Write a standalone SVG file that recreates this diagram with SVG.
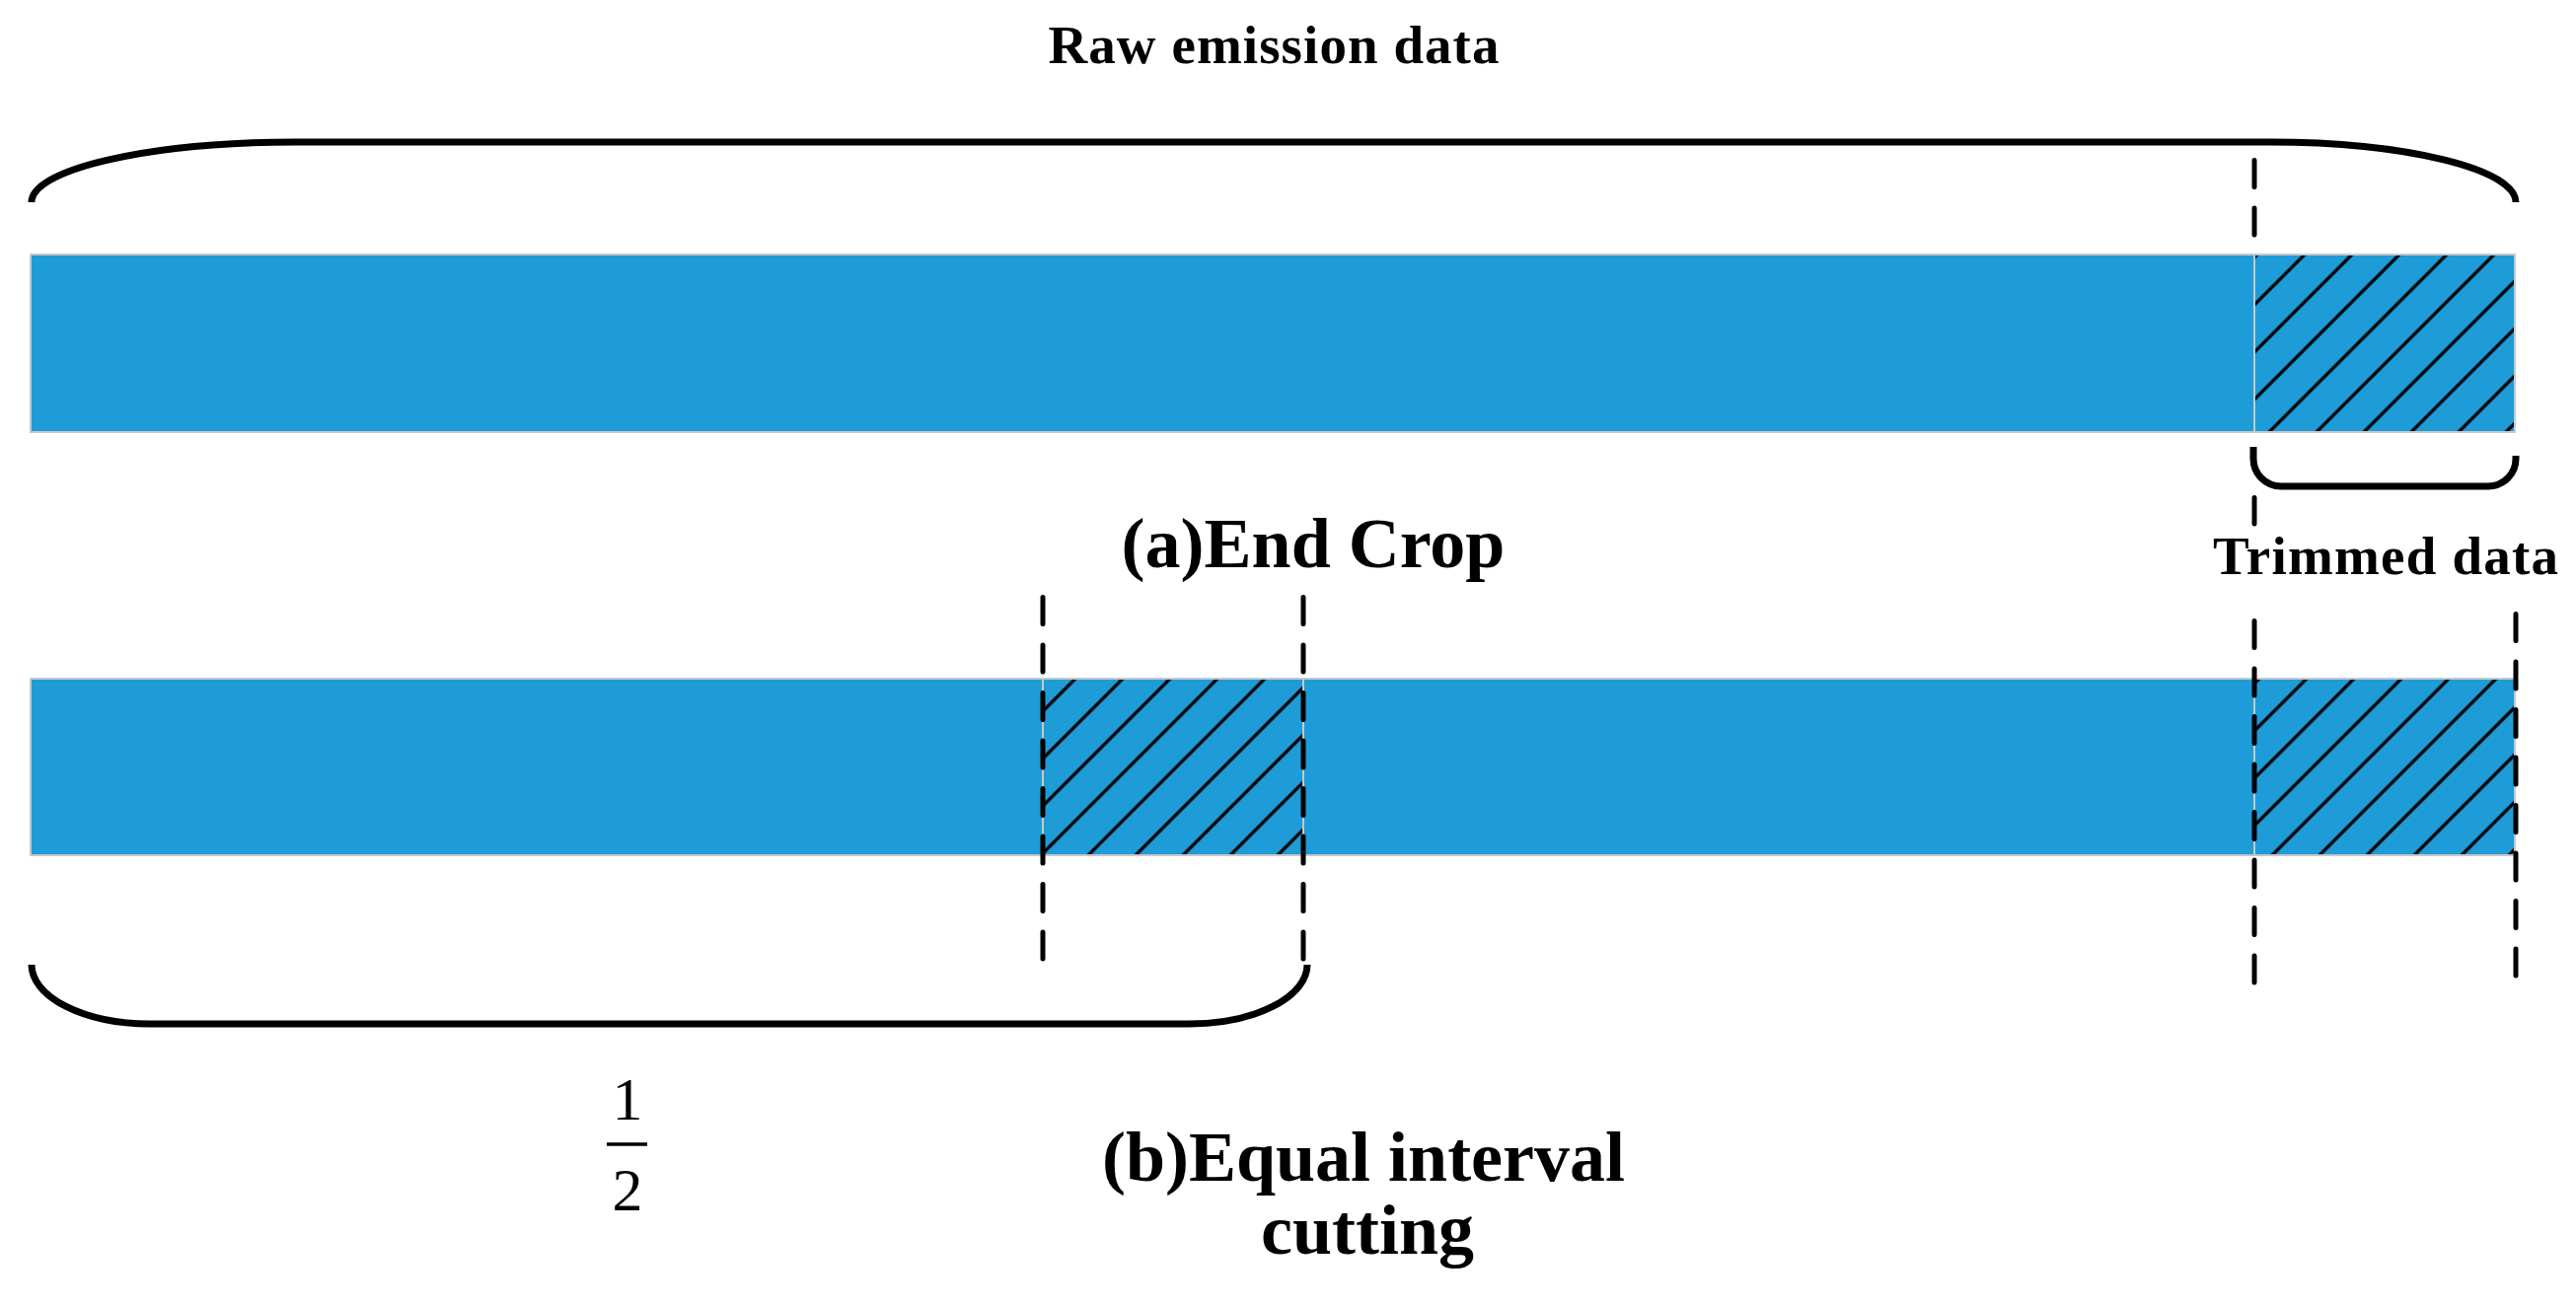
<svg xmlns="http://www.w3.org/2000/svg" width="2611" height="1325" viewBox="0 0 2611 1325">
<style>
.bar{fill:#1E9CD7;stroke:#c8c8c8;stroke-width:2}
.hatch{fill:url(#hatch);stroke:#c8c8c8;stroke-width:2}
.brace{fill:none;stroke:#000;stroke-width:7;stroke-linecap:butt}
.dash{fill:none;stroke:#000;stroke-width:5;stroke-linecap:round;stroke-dasharray:27 21.5}
.t{font-family:"Liberation Serif","Times New Roman",serif;font-weight:bold;fill:#000}
.m{font-family:"Liberation Serif","Times New Roman",serif;fill:#000}
</style>
<defs>
<pattern id="hatch" patternUnits="userSpaceOnUse" x="2" y="0" width="48" height="48">
<rect x="0" y="0" width="48" height="48" fill="#1E9CD7"/>
<path d="M-2 50 L50 -2 M-6 6 L6 -6 M42 54 L54 42" stroke="#0a3550" stroke-width="4"/>
<path d="M-2 50 L50 -2 M-6 6 L6 -6 M42 54 L54 42" stroke="#000" stroke-width="2.2"/>
</pattern>
</defs>
<rect width="2611" height="1325" fill="#fff"/>

<g id="bar-a">
<rect class="bar" x="31" y="258" width="2518" height="180"/>
<rect class="hatch" x="2285" y="258" width="264" height="180"/>
</g>
<g id="bar-b">
<rect class="bar" x="31" y="688" width="2518" height="179"/>
<rect class="hatch" x="1057" y="688" width="264" height="179"/>
<rect class="hatch" x="2285" y="688" width="264" height="179"/>
</g>

<g id="connectors">
<path id="brace-raw" class="brace" d="M32 205 A268 61 0 0 1 300 144 L2300 144 A250 61 0 0 1 2550 205"/>
<path id="brace-trim" class="brace" d="M2284 453 L2284 465 A28 28 0 0 0 2312 493 L2522 493 A28 28 0 0 0 2550 465 L2550 462"/>
<path id="brace-half" class="brace" d="M32 978 A120 60 0 0 0 152 1038 L1205 1038 A120 60 0 0 0 1325 978"/>
<line class="dash" x1="2285" y1="162.5" x2="2285" y2="256"/>
<line class="dash" x1="2285" y1="504.5" x2="2285" y2="531"/>
<line class="dash" x1="2285" y1="629.5" x2="2285" y2="998"/>
<line class="dash" x1="2550" y1="622.5" x2="2550" y2="991"/>
<line class="dash" x1="1057" y1="605.5" x2="1057" y2="973"/>
<line class="dash" x1="1321" y1="605.5" x2="1321" y2="973"/>
</g>

<g id="label-raw"><text class="t" x="1291" y="64" font-size="55" text-anchor="middle" textLength="457" lengthAdjust="spacing">Raw emission data</text></g>
<g id="label-trimmed"><text class="t" x="2418" y="582" font-size="55" text-anchor="middle" textLength="350" lengthAdjust="spacing">Trimmed data</text></g>
<g id="label-a"><text class="t" x="1331" y="575" font-size="72" text-anchor="middle">(a)End Crop</text></g>
<g id="label-b"><text class="t" x="1382" y="1197" font-size="72" text-anchor="middle">(b)Equal interval</text>
<text class="t" x="1386" y="1271" font-size="72" text-anchor="middle">cutting</text></g>
<g id="label-half">
<text class="m" x="636" y="1135" font-size="62" text-anchor="middle">1</text>
<line x1="615" y1="1160" x2="656" y2="1160" stroke="#000" stroke-width="3.5"/>
<text class="m" x="636" y="1227" font-size="62" text-anchor="middle">2</text>
</g>
</svg>
